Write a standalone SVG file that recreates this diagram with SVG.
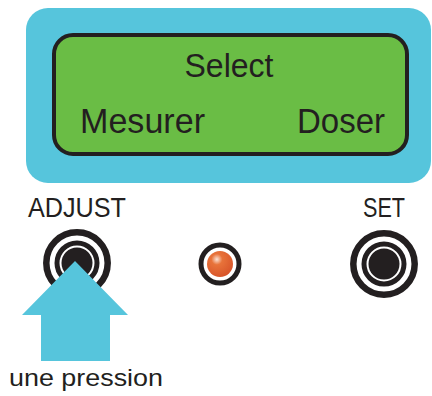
<svg xmlns="http://www.w3.org/2000/svg" width="432" height="396" viewBox="0 0 432 396">
<defs>
<style>
.t{font-family:"Liberation Sans",Arial,sans-serif;fill:#231f20}
.ring{fill:none;stroke:#231f20}
</style>
<radialGradient id="led" cx="0.38" cy="0.32" r="0.7">
<stop offset="0" stop-color="#fbe3d6"/>
<stop offset="0.3" stop-color="#e8733a"/>
<stop offset="1" stop-color="#d8552a"/>
</radialGradient>
</defs>
<rect width="432" height="396" fill="#ffffff"/>
<g id="panel">
<rect x="26" y="8" width="405" height="175" rx="22" fill="#56c5dc"/>
</g>
<g id="lcd">
<rect x="54" y="35" width="353" height="119" rx="19" fill="#6abd45" stroke="#231f20" stroke-width="4"/>
<text class="t" x="229" y="77" font-size="34" text-anchor="middle" textLength="89" lengthAdjust="spacingAndGlyphs">Select</text>
<text class="t" x="80" y="133" font-size="35" textLength="125" lengthAdjust="spacingAndGlyphs">Mesurer</text>
<text class="t" x="297" y="133" font-size="35" textLength="88" lengthAdjust="spacingAndGlyphs">Doser</text>
</g>
<g id="adjust">
<text class="t" x="28" y="217" font-size="27" textLength="98" lengthAdjust="spacingAndGlyphs">ADJUST</text>
<circle class="ring" cx="77" cy="263" r="30.7" stroke-width="6.5"/>
<circle class="ring" cx="77" cy="263" r="20" stroke-width="5"/>
<circle cx="77" cy="263" r="15.5" fill="#231f20"/>
</g>
<g id="led-indicator">
<circle class="ring" cx="220" cy="264" r="19" stroke-width="5"/>
<circle cx="220" cy="264" r="13" fill="url(#led)"/>
</g>
<g id="set">
<text class="t" x="363" y="217" font-size="27" textLength="42" lengthAdjust="spacingAndGlyphs">SET</text>
<circle class="ring" cx="384" cy="264" r="30.7" stroke-width="6.5"/>
<circle class="ring" cx="384" cy="264" r="20" stroke-width="5"/>
<circle cx="384" cy="264" r="15.5" fill="#231f20"/>
</g>
<g id="arrow">
<polygon points="75,261 128,315 110,315 110,361 41,361 41,315 22,315" fill="#56c5dc"/>
<text class="t" x="9" y="386" font-size="24" textLength="154" lengthAdjust="spacingAndGlyphs">une pression</text>
</g>
</svg>
